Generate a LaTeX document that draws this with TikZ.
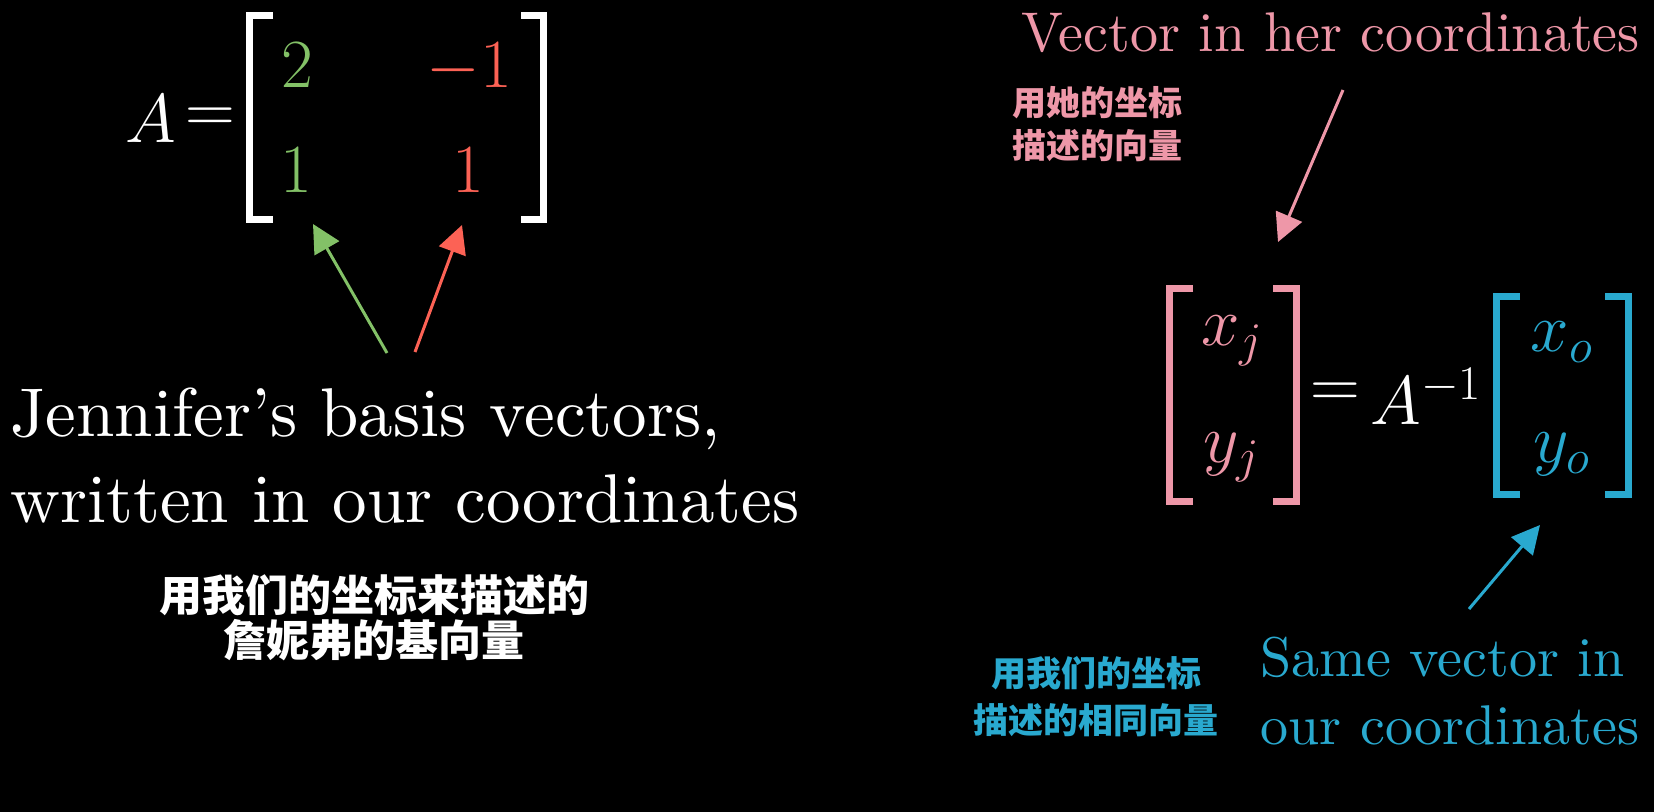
\RequirePackage{fix-cm}
\documentclass[tikz,border=0pt]{standalone}
\usepackage{fontspec}
\setmainfont{lmroman10-regular}[Extension=.otf]
\newfontfamily\cjk{Noto Sans CJK SC}
\usetikzlibrary{arrows.meta}
\definecolor{jgreen}{HTML}{83C167}
\definecolor{jred}{HTML}{FC6255}
\definecolor{jpink}{HTML}{EE97A8}
\definecolor{jblue}{HTML}{29A9CF}

\begin{document}
\begin{tikzpicture}[x=0.5pt,y=-0.5pt,
  every node/.style={inner sep=0pt,text=white},
  big/.style={font=\fontsize{34.5}{40}\selectfont},
  mid/.style={font=\fontsize{28}{32}\selectfont},
  zhbig/.style={align=center,font=\cjk\bfseries\fontsize{21.5}{22.5}\selectfont},
  zhsmall/.style={align=center,font=\cjk\bfseries\fontsize{17}{21.5}\selectfont},
  brak/.style={line width=3.5pt},
  pointer/.style={line width=1.5pt,-{Triangle[length=14pt,width=14pt]}}]
\fill[black] (0,0) rectangle (1654,812);

% A = matrix
\node[big,anchor=base] (capA) at (151,143) {$A$};
\node[big] (eq1) at (210,120) {$=$};
\node[big,anchor=base,text=jgreen] (a11) at (297,88) {$2$};
\node[big,anchor=base,text=jgreen] (a21) at (296,193) {$1$};
\node[big,anchor=base,text=jred] (a12) at (469,88) {$-1$};
\node[big,anchor=base,text=jred] (a22) at (468,193) {$1$};
\draw[brak,white] (273,15.5) -- (249.5,15.5) -- (249.5,219.5) -- (273,219.5);
\draw[brak,white] (521,15.5) -- (543.5,15.5) -- (543.5,219.5) -- (521,219.5);

\node[big,anchor=base west] (jen1) at (10,437) {Jennifer's basis vectors,};
\node[big,anchor=base west] (jen2) at (10,522) {written in our coordinates};
\node[zhbig] (zhwhite) at (374,618) {用我们的坐标来描述的\\詹妮弗的基向量};

\coordinate (gstart) at (387,353);
\coordinate (gtip) at (313,224);
\coordinate (rstart) at (415,352);
\coordinate (rtip) at (462,225);
\draw[pointer,jgreen] (gstart) -- (gtip);
\draw[pointer,jred] (rstart) -- (rtip);

% right side
\node[mid,anchor=base west,text=jpink] (her) at (1021,52) {Vector in her coordinates};
\node[zhsmall,text=jpink] (zhpink) at (1097,124) {用她的坐标\\描述的向量};
\coordinate (pstart) at (1343,90);
\coordinate (ptip) at (1278,242);
\draw[pointer,jpink] (pstart) -- (ptip);

\node[big,anchor=base,text=jpink] (xj) at (1232,346) {$x_j$};
\node[big,anchor=base,text=jpink] (yj) at (1232,462) {$y_j$};
\draw[brak,jpink] (1193,288.5) -- (1169.5,288.5) -- (1169.5,501.5) -- (1193,501.5);
\draw[brak,jpink] (1273,288.5) -- (1296.5,288.5) -- (1296.5,501.5) -- (1273,501.5);

\node[big] (eq2) at (1335,395) {$=$};
\node[big,anchor=base west] (ainv) at (1370,425) {$A^{-1}$};

\node[big,anchor=base,text=jblue] (xo) at (1562,352) {$x_o$};
\node[big,anchor=base,text=jblue] (yo) at (1562,463) {$y_o$};
\draw[brak,jblue] (1520,296.5) -- (1496.5,296.5) -- (1496.5,494.5) -- (1520,494.5);
\draw[brak,jblue] (1605,296.5) -- (1628.5,296.5) -- (1628.5,494.5) -- (1605,494.5);

\coordinate (bstart) at (1469,609);
\coordinate (btip) at (1540,525);
\draw[pointer,jblue] (bstart) -- (btip);
\node[mid,anchor=base west,text=jblue] (same1) at (1260,676) {Same vector in};
\node[mid,anchor=base west,text=jblue] (same2) at (1260,744) {our coordinates};
\node[zhsmall,font=\cjk\bfseries\fontsize{17.5}{23.5}\selectfont,text=jblue] (zhblue) at (1096,697) {用我们的坐标\\描述的相同向量};
\end{tikzpicture}
\end{document}
